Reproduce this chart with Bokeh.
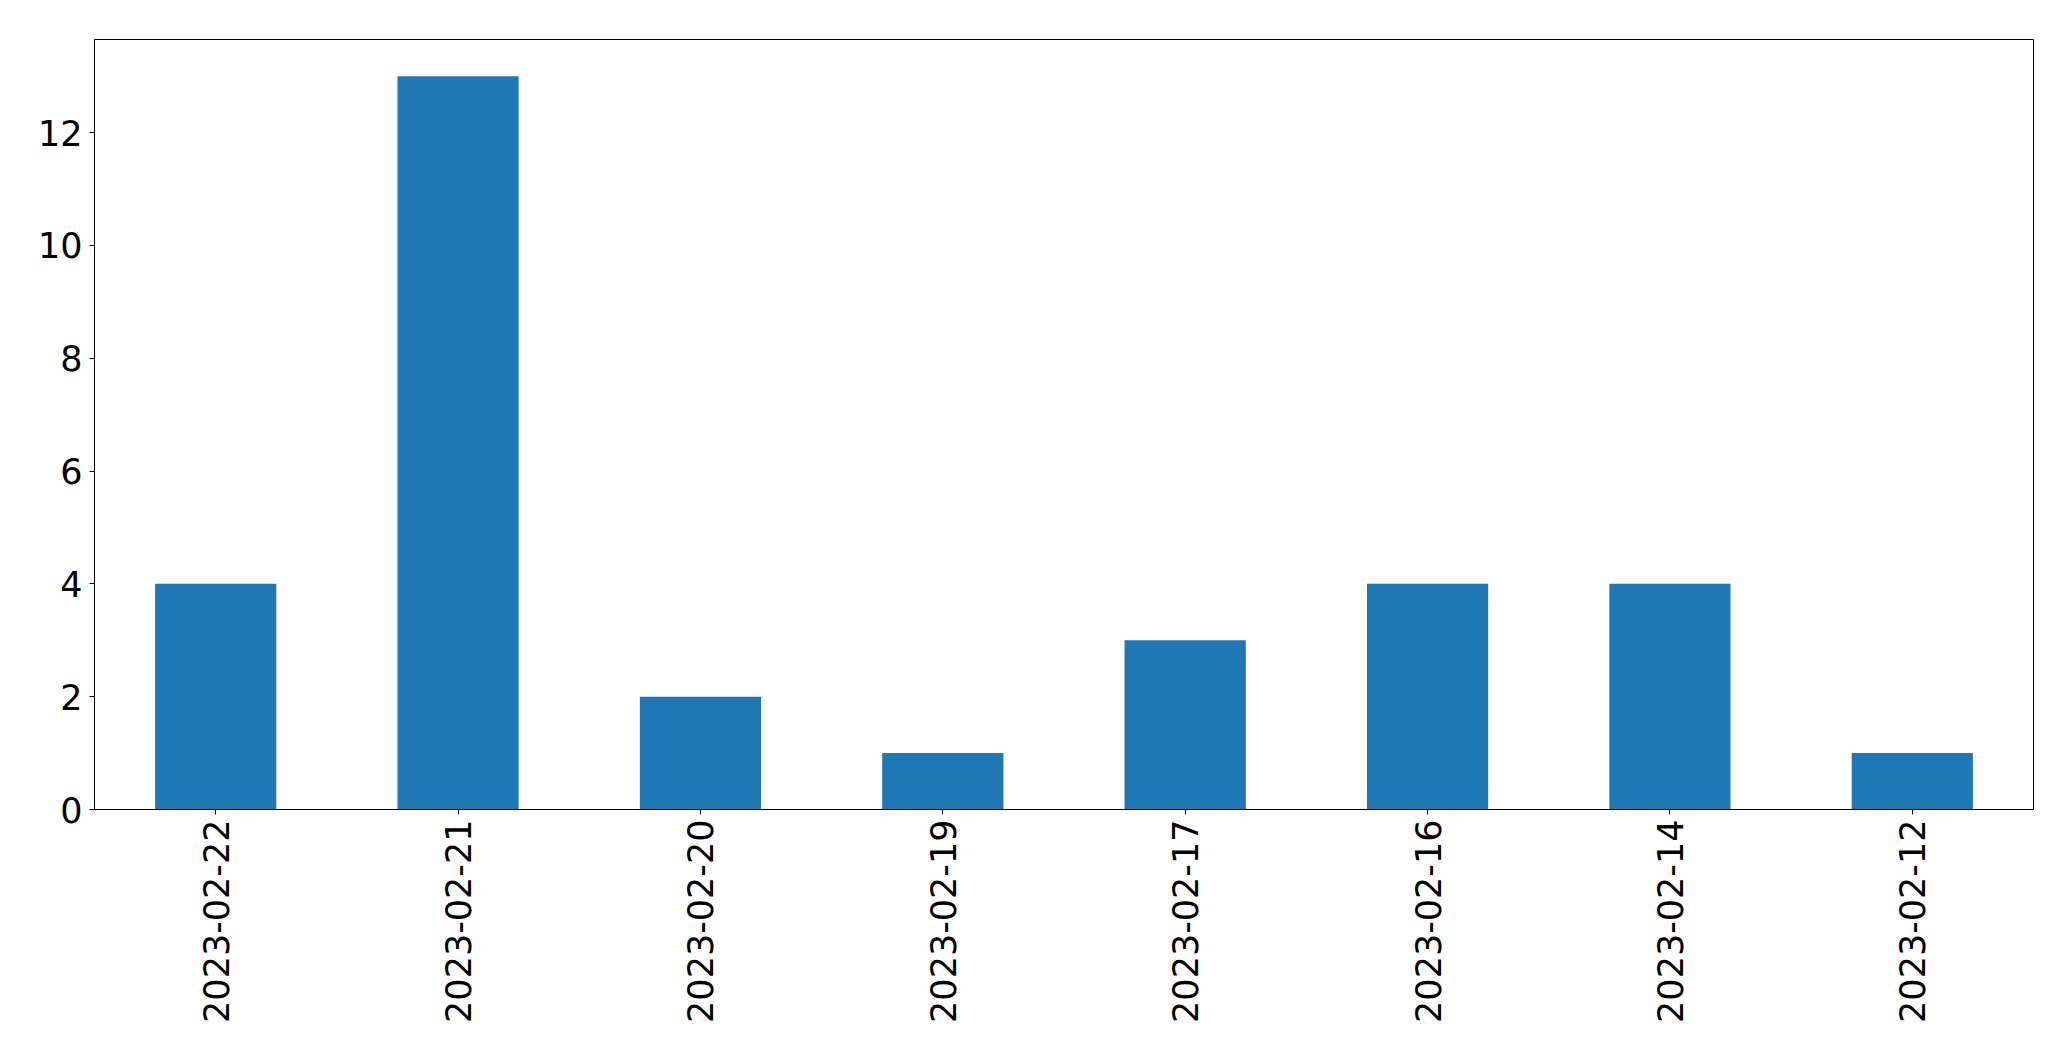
import math
from bokeh.plotting import figure
from bokeh.models import FactorRange, Range1d, FixedTicker, ColumnDataSource
from bokeh.embed import file_html
from bokeh.resources import INLINE

dates = ["2023-02-22", "2023-02-21", "2023-02-20", "2023-02-19",
         "2023-02-17", "2023-02-16", "2023-02-14", "2023-02-12"]
counts = [4, 13, 2, 1, 3, 4, 4, 1]
y_ticks = [0, 2, 4, 6, 8, 10, 12]

src = ColumnDataSource(dict(x=dates, y=counts))

p = figure(width=2055, height=1045, output_backend="svg", toolbar_location=None,
           x_range=FactorRange(factors=dates, range_padding=0),
           y_range=Range1d(0, 13.65),
           min_border_left=94, min_border_top=39, min_border_right=22, min_border_bottom=236)

p.vbar(x="x", top="y", width=0.5, source=src, fill_color="#1f77b4", line_color=None)

p.xgrid.visible = False
p.ygrid.visible = False
p.outline_line_color = "black"
p.outline_line_width = 1
p.outline_line_alpha = 1

p.yaxis.ticker = FixedTicker(ticks=y_ticks)
for ax in (p.xaxis[0], p.yaxis[0]):
    ax.major_label_text_font = "DejaVu Sans"
    ax.major_label_text_font_size = "35px"
    ax.major_label_text_color = "black"
    ax.axis_line_color = "black"
    ax.major_tick_line_color = "black"
    ax.major_tick_out = 5
    ax.major_tick_in = 0
    ax.minor_tick_line_color = None
p.yaxis.major_label_standoff = 7
p.xaxis.major_label_standoff = 5
p.xaxis.major_label_orientation = math.pi / 2

open("out.html", "w").write(file_html(p, INLINE))
